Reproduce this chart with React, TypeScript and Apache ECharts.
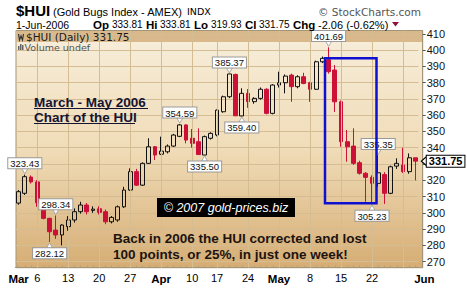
import React, { useEffect, useRef } from "react";
import * as echarts from "echarts";

const dates = [
  "2006-03-01","2006-03-02","2006-03-03","2006-03-06","2006-03-07","2006-03-08","2006-03-09","2006-03-10",
  "2006-03-13","2006-03-14","2006-03-15","2006-03-16","2006-03-17","2006-03-20","2006-03-21","2006-03-22",
  "2006-03-23","2006-03-24","2006-03-27","2006-03-28","2006-03-29","2006-03-30","2006-03-31",
  "2006-04-03","2006-04-04","2006-04-05","2006-04-06","2006-04-07","2006-04-10","2006-04-11","2006-04-12",
  "2006-04-13","2006-04-17","2006-04-18","2006-04-19","2006-04-20","2006-04-21","2006-04-24","2006-04-25",
  "2006-04-26","2006-04-27","2006-04-28",
  "2006-05-01","2006-05-02","2006-05-03","2006-05-04","2006-05-05","2006-05-08","2006-05-09","2006-05-10",
  "2006-05-11","2006-05-12","2006-05-15","2006-05-16","2006-05-17","2006-05-18","2006-05-19","2006-05-22",
  "2006-05-23","2006-05-24","2006-05-25","2006-05-26","2006-05-30","2006-05-31",
  "2006-06-01",
];

const opens = [
  306, 312, 322, 319, 303.7, 296.6, 289.4, 286.4,
  291.5, 295.6, 300.7, 304.8, 301.5, 302.5, 300.7, 294.5,
  295.6, 303.7, 314, 325.3, 317, 330.4, 340.6,
  336, 337.5, 341, 347, 354, 345.8, 343.7, 335.5,
  345.8, 347.8, 362.1, 371.3, 385, 359.5, 373.4, 368.3,
  370.3, 375.9, 361.1,
  378.5, 379.9, 384.6, 377.5, 383.6, 379.9, 375.9, 392.8,
  394, 387.7, 368.2, 343.7, 341, 330.8, 324.3, 321.8,
  318.1, 323.5, 312, 328.7, 329.4, 325.3,
  333.81,
];
const closes = [
  313, 322.2, 319, 306.2, 296.6, 288.4, 286.4, 292.5,
  295.6, 300.7, 304.8, 300.7, 302.3, 300.3, 294.5, 297.2,
  303.7, 314, 325.3, 317, 330.4, 340.6, 335.5,
  337.9, 341, 347.8, 354, 344.7, 342.7, 335.8, 346.8,
  348.8, 363.1, 371.3, 385.3, 359.6, 373.4, 368.3, 370.3,
  375.9, 361.1, 378.5,
  379.9, 384, 377.5, 383.6, 379.5, 375.9, 392.8, 394.9,
  386.7, 368.2, 343.7, 340.6, 330.4, 324.3, 321.8, 318.1,
  324.6, 312, 328.3, 330.4, 325.3, 333.81,
  331.75,
];
const lows = [
  305, 311, 318, 303.7, 296, 282.12, 284, 280,
  289, 294, 299.5, 299, 300, 299, 293, 293.5,
  294.5, 303, 313.5, 316.5, 316.5, 330, 332.4,
  335.5, 336.5, 340.5, 346.5, 342.7, 340, 335.6, 335.5,
  345, 347, 361.5, 370.5, 359.5, 359.4, 364.5, 367,
  369.5, 360.5, 360.5,
  377, 373.4, 368.2, 376.5, 379, 368.2, 375.5, 392,
  385.5, 362, 340.6, 331.4, 329.5, 323.5, 306.8, 305.23,
  316, 305.5, 311.5, 327, 324.5, 324,
  319.93,
];
const highs = [
  314, 323.43, 323, 320, 304.5, 297, 298.34, 293,
  298, 302.7, 306.8, 306, 304, 304, 302, 298,
  304.5, 316, 327.3, 327, 331, 345.8, 341,
  346.8, 342, 348.5, 354.59, 354.3, 351.5, 351.9, 347.5,
  349.5, 363.5, 372, 385.37, 385.5, 376.5, 376, 371,
  377, 376.5, 379,
  386.7, 385, 385.5, 384.5, 386, 380.5, 393.5, 396,
  401.69, 390.8, 369, 350.9, 351.9, 332, 325, 323,
  335.35, 325, 329, 333.5, 340, 336.5,
  333.81,
];

const tickIdx = [0, 3, 8, 13, 18, 23, 28, 32, 37, 42, 47, 52, 57, 64];
const tickText = ["Mar", "6", "13", "20", "27", "Apr", "10", "17", "24", "May", "8", "15", "22", "Jun"];
const gridIdx = [3, 8, 13, 18, 23, 28, 32, 37, 42, 47, 52, 57, 62];
const yTicks = [270, 280, 290, 300, 310, 320, 330, 340, 350, 360, 370, 380, 390, 400, 410];
// 330 is hidden behind the last-price box in the reference
const yLabels = [270, 280, 290, 300, 310, 320, 340, 350, 360, 370, 380, 390, 400, 410];

const calloutIdx = [1, 6, 5, 26, 30, 34, 36, 50, 58, 57];
const calloutVal = [323.43, 298.34, 282.12, 354.59, 335.5, 385.37, 359.4, 401.69, 335.35, 305.23];
const calloutSide = ["high", "high", "low", "high", "low", "high", "low", "high", "high", "low"];
const lastIdx = 64;
const lastPrice = 331.75;

const quoteLabels = ["Op", "Hi", "Lo", "Cl", "Chg"];
const quoteValues = ["333.81", "333.81", "319.93", "331.75", "-2.06 (-0.62%)"];

const SANS = "Liberation Sans, Arial, sans-serif";
const DEJA = "DejaVu Sans, Verdana, sans-serif";

export default function App() {
  const ref = useRef<HTMLDivElement>(null);
  useEffect(() => {
    const chart = echarts.init(ref.current!, null, { renderer: "svg" });
    const candles = dates.map((_, i) => [opens[i], closes[i], lows[i], highs[i]]);

    const callouts = calloutIdx.map((idx, j) => {
      const isHigh = calloutSide[j] === "high";
      return {
        coord: [idx, calloutVal[j]],
        value: calloutVal[j],
        symbol: isHigh ? "path://M0,0 L10,0 L5,8 Z" : "path://M5,0 L10,8 L0,8 Z",
        symbolSize: [6, 5],
        symbolOffset: [0, isHigh ? -3.5 : 3.5],
        itemStyle: { color: "#ffffff", borderColor: "#9a9a9a", borderWidth: 0.8 },
        label: {
          show: true,
          position: isHigh ? "top" : "bottom",
          distance: 0,
          formatter: calloutVal[j].toFixed(2),
          backgroundColor: "#ffffff",
          borderColor: "#9a9a9a",
          borderWidth: 1,
          padding: [1, 2, 0, 2],
          fontSize: 9.5,
          lineHeight: 9,
          fontFamily: SANS,
          color: "#111",
        },
      };
    });

    const lastMark = {
      coord: [lastIdx, lastPrice],
      value: lastPrice,
      symbol: "path://M0,5 L7,0 L7,10 Z",
      symbolSize: [5, 9],
      symbolOffset: [8.5, 0],
      itemStyle: { color: "#ffffff", borderColor: "#000", borderWidth: 1 },
      label: {
        show: true,
        position: "right",
        distance: 0,
        formatter: lastPrice.toFixed(2),
        backgroundColor: "#ffffff",
        borderColor: "#000",
        borderWidth: 1,
        padding: [1, 2, 0, 2],
        fontSize: 11,
        lineHeight: 10,
        fontWeight: "bold",
        fontFamily: SANS,
        color: "#000",
      },
    };

    const bg = new echarts.graphic.LinearGradient(0, 0, 0, 1, [
      { offset: 0, color: "#f7eedb" },
      { offset: 0.5, color: "#f0dcb8" },
      { offset: 1, color: "#d6ad74" },
    ]);

    const txt = (x: number, y: number, text: string, font: string, fill: string, extra: any = {}) => ({
      type: "text",
      x,
      y,
      z: 100,
      style: {
        text,
        font,
        fill,
        align: "left",
        verticalAlign: "middle",
        textAlign: "left",
        textVerticalAlign: "middle",
        ...extra,
      },
    });

    // quote line layout: label x, value x
    const qLabelX = [93, 146, 194, 245, 293];
    const qValueX = [112, 160, 211, 259, 318];
    const quoteEls: any[] = [];
    quoteLabels.forEach((l, i) => {
      quoteEls.push(txt(qLabelX[i], 24.5, l, `bold 11.5px ${SANS}`, "#000"));
      quoteEls.push(
        txt(qValueX[i], 24.5, quoteValues[i], `${i === 4 ? 11 : 10}px ${SANS}`, "#000")
      );
    });

    const option: any = {
      animation: false,
      backgroundColor: "#ffffff",
      grid: { left: 15.5, right: 48.5, top: 30.5, bottom: 24.3, show: false },
      xAxis: {
        type: "category",
        data: dates,
        boundaryGap: true,
        axisLine: { show: true, lineStyle: { color: "#a39577", width: 1 } },
        axisTick: {
          show: true,
          inside: true,
          length: 2,
          interval: 0,
          alignWithLabel: true,
          lineStyle: { color: "#b39a74" },
        },
        axisLabel: {
          interval: (index: number) => tickIdx.includes(index),
          margin: 5,
          formatter: (value: string, index: number) => {
            const j = tickIdx.indexOf(index);
            if (j < 0) return "";
            const t = tickText[j];
            if (t === "Jun") return `{jun|${t}}`;
            if (/^[A-Z]/.test(t)) return `{m|${t}}`;
            return `{d|${t}}`;
          },
          rich: {
            m: { fontWeight: "bold", fontSize: 11.5, color: "#000", fontFamily: SANS },
            jun: { fontWeight: "bold", fontSize: 11.5, color: "#000", fontFamily: SANS, padding: [0, 0, 0, 18] },
            d: { fontSize: 11, color: "#000", fontFamily: SANS },
          },
        },
        splitLine: { show: false },
      },
      yAxis: {
        type: "value",
        position: "right",
        offset: 4.2,
        min: 266.3,
        max: 412,
        axisLine: { show: true, lineStyle: { color: "#a39577" } },
        axisTick: { show: true, length: 3, customValues: yTicks, lineStyle: { color: "#555" } },
        axisLabel: { customValues: yLabels, fontSize: 11, color: "#111", margin: 4, fontFamily: SANS },
        splitLine: { show: true, lineStyle: { color: "#d4bc93", width: 1 } },
      },
      series: [
        {
          type: "line",
          data: [],
          z: 1,
          silent: true,
          markLine: {
            silent: true,
            symbol: ["none", "none"],
            label: { show: false },
            lineStyle: { color: "#d4bc93", width: 1, type: "solid" },
            data: gridIdx.map((i) => ({ xAxis: i })),
          },
        },
        {
          type: "candlestick",
          data: candles,
          barWidth: 4.2,
          z: 3,
          itemStyle: {
            color: "rgba(0,0,0,0)",
            color0: "#cc1038",
            borderColor: "#111111",
            borderColor0: "#cc1038",
            borderWidth: 1,
          },
          markPoint: {
            silent: true,
            data: [...callouts, lastMark],
          },
        },
      ],
      graphic: [
        {
          type: "rect",
          z: -10,
          shape: { x: 16, y: 30.5, width: 406.7, height: 237.2 },
          style: { fill: bg, stroke: "#a39577", lineWidth: 1 },
        },
        {
          type: "rect",
          z: -9,
          shape: { x: 16.5, y: 31, width: 405.7, height: 11 },
          style: { fill: "#d9b98c" },
        },
        // header titles
        txt(16, 10.5, "$HUI", `bold 15px ${SANS}`, "#000"),
        txt(53, 11.5, "(Gold Bugs Index - AMEX)", `11px ${SANS}`, "#000"),
        txt(187, 11.5, "INDX", `9.5px ${DEJA}`, "#000"),
        txt(318, 11.5, "\u00a9 StockCharts.com", `10.5px ${DEJA}`, "#555"),
        txt(16, 24.5, "1-Jun-2006", `10.5px ${SANS}`, "#000"),
        ...quoteEls,
        {
          type: "polygon",
          z: 100,
          shape: { points: [[392, 22], [399, 22], [395.5, 26.5]] },
          style: { fill: "#8b1538" },
        },
        // in-plot header
        {
          type: "polyline",
          z: 100,
          shape: { points: [[18.5, 34], [19.5, 40], [21, 36], [22.5, 40], [23.5, 34]] },
          style: { stroke: "#333", lineWidth: 1.2, fill: "none" },
        },
        txt(26, 37, "$HUI (Daily) 331.75", `10.5px ${DEJA}`, "#1a1a1a"),
        { type: "rect", z: 100, shape: { x: 18, y: 46, width: 1.5, height: 4 }, style: { fill: "#666" } },
        { type: "rect", z: 100, shape: { x: 20, y: 44, width: 1.5, height: 6 }, style: { fill: "#666" } },
        { type: "rect", z: 100, shape: { x: 22, y: 45, width: 1.5, height: 5 }, style: { fill: "#666" } },
        txt(24.5, 47.5, "Volume undef", `9.5px ${DEJA}`, "#555"),
        // annotations
        txt(34, 102, "March - May 2006", `bold 13.5px ${SANS}`, "#141432"),
        { type: "line", z: 100, shape: { x1: 34, y1: 108.5, x2: 148, y2: 108.5 }, style: { stroke: "#141432", lineWidth: 1.2 } },
        txt(34, 117, "Chart of the HUI", `bold 13.5px ${SANS}`, "#141432"),
        { type: "line", z: 100, shape: { x1: 34, y1: 123.5, x2: 135, y2: 123.5 }, style: { stroke: "#141432", lineWidth: 1.2 } },
        { type: "rect", z: 99, shape: { x: 157, y: 198, width: 138, height: 19 }, style: { fill: "#000" } },
        txt(226, 207.5, "\u00a9 2007 gold-prices.biz", `italic 12.5px ${SANS}`, "#fff", {
          align: "center",
          textAlign: "center",
        }),
        txt(113, 238, "Back in 2006 the HUI corrected and lost", `bold 13.5px ${SANS}`, "#1c1410"),
        txt(113, 254, "100 points, or 25%, in just one week!", `bold 13.5px ${SANS}`, "#1c1410"),
        {
          type: "rect",
          z: 90,
          shape: { x: 325, y: 58.3, width: 51.5, height: 145 },
          style: { fill: "none", stroke: "#1010d0", lineWidth: 2.5 },
        },
      ],
    };

    chart.setOption(option);
    return () => chart.dispose();
  }, []);

  return (
    <div
      ref={ref}
      style={{ width: 467, height: 292, position: "absolute", left: 0, top: 0 }}
    />
  );
}
